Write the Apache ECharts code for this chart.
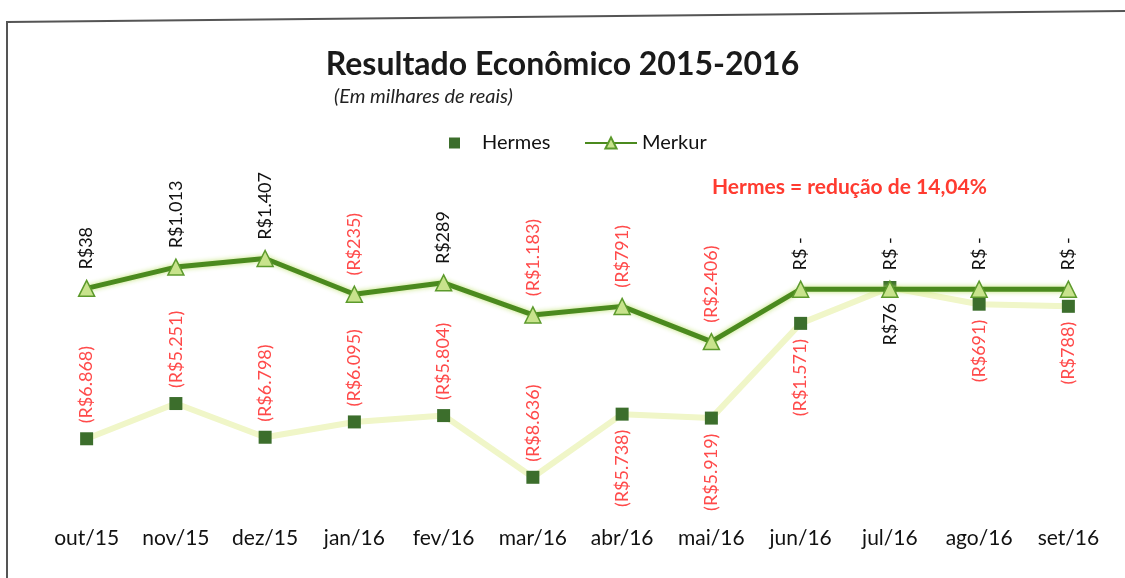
<!DOCTYPE html>
<html>
<head>
<meta charset="utf-8">
<script src="https://cdn.jsdelivr.net/npm/echarts@6/dist/echarts.min.js"></script>
<style>html,body{margin:0;padding:0;background:#fff}#c{width:1125px;height:578px}</style>
</head>
<body>
<div id="c"></div>
<script>
const categories = ['out/15','nov/15','dez/15','jan/16','fev/16','mar/16','abr/16','mai/16','jun/16','jul/16','ago/16','set/16'];
const hermes = [-6868, -5251, -6798, -6095, -5804, -8636, -5738, -5919, -1571, 76, -691, -788];
const merkur = [38, 1013, 1407, -235, 289, -1183, -791, -2406, 0, 0, 0, 0];
const hermesLabelsBelowFrom = 6;

function fmt(v) {
  if (v === 0) return '{pos|R$ -}';
  const s = String(Math.abs(v)).replace(/\B(?=(\d{3})+(?!\d))/g, '.');
  return v < 0 ? '{neg|(R$' + s + ')}' : '{pos|R$' + s + '}';
}
const rich = {
  pos: { color: '#111', fontSize: 18, fontFamily: 'Lato' },
  neg: { color: '#ff4a4a', fontSize: 18, fontFamily: 'Lato' }
};

const chart = echarts.init(document.getElementById('c'));
chart.setOption({
  animation: false,
  backgroundColor: '#fff',
  title: [
    { text: 'Resultado Econômico 2015-2016', left: 'center', top: 44,
      textStyle: { fontFamily: 'Lato', fontWeight: 'bold', fontSize: 32, color: '#1a1a1a' } },
    { text: '(Em milhares de reais)', left: 329, top: 82,
      textStyle: { fontFamily: 'Lato', fontStyle: 'italic', fontWeight: 'normal', fontSize: 20, color: '#222' } }
  ],
  legend: [
    { data: [{ name: 'Hermes', icon: 'rect', itemStyle: { color: '#3c6e2c' } }],
      left: 444, top: 128, itemWidth: 11, itemHeight: 11,
      textStyle: { fontFamily: 'Lato', fontSize: 20, color: '#111', padding: [0, 0, 0, 17] } },
    { data: ['Merkur'], left: 579, top: 128, itemWidth: 52, itemHeight: 14,
      textStyle: { fontFamily: 'Lato', fontSize: 20, color: '#111' } }
  ],
  graphic: [
    { type: 'polyline', silent: true, shape: { points: [[7, 578], [7, 22], [1125, 11]] },
      style: { stroke: '#555', lineWidth: 2, fill: null } },
    { type: 'text', left: 712, top: 177, silent: true,
      style: { text: 'Hermes = redução de 14,04%', fill: '#ff3b30', font: 'bold 21px Lato' } }
  ],
  grid: { left: 42, right: 12, top: 202, bottom: 71 },
  xAxis: {
    type: 'category', data: categories, boundaryGap: true,
    axisLine: { show: false }, axisTick: { show: false },
    axisLabel: { color: '#111', fontFamily: 'Lato', fontSize: 21, margin: 21 }
  },
  yAxis: {
    type: 'value', min: -10000, max: 4000, interval: 2000, show: false,
    splitLine: { show: false }
  },
  series: [
    {
      name: 'Hermes', type: 'line', z: 2,
      data: hermes.map((v, i) => ({
        value: v,
        label: i < hermesLabelsBelowFrom
          ? { position: 'top', align: 'left', distance: 9 }
          : { position: 'bottom', align: 'right', distance: 9 }
      })),
      symbol: 'rect', symbolSize: 13,
      itemStyle: { color: '#3c6e2c' },
      lineStyle: { color: '#f0f6c8', width: 6 },
      label: { show: true, rotate: 90, verticalAlign: 'middle', formatter: p => fmt(p.value), rich: rich }
    },
    {
      name: 'Merkur', type: 'line', z: 3,
      data: merkur,
      symbol: 'triangle', symbolSize: 16,
      itemStyle: { color: '#c8e38c', borderColor: '#5c9a2c', borderWidth: 1.5 },
      lineStyle: { color: '#4b8a1e', width: 5, shadowColor: 'rgba(190,225,110,0.95)', shadowBlur: 5 },
      label: { show: true, position: 'top', rotate: 90, align: 'left', verticalAlign: 'middle', distance: 10,
        formatter: p => fmt(p.value), rich: rich }
    }
  ]
});
</script>
</body>
</html>
